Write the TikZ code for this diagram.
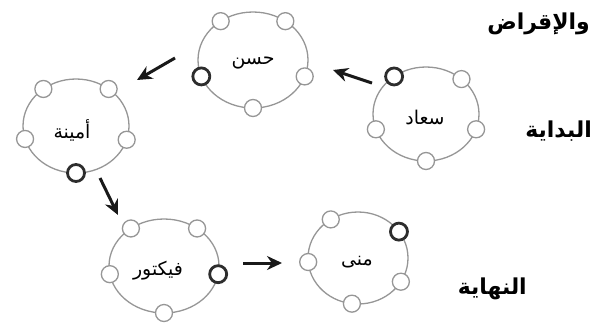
\documentclass[tikz,border=0pt]{standalone}
\usepackage{fontspec}
\usetikzlibrary{arrows.meta, calc}
\TeXXeTstate=1
\newfontfamily\arabicfont[Script=Arabic]{DejaVu Sans}
\newcommand{\artext}[1]{\arabicfont\beginR #1\endR}
\definecolor{ringgray}{RGB}{150,150,150}
\definecolor{seatdark}{RGB}{45,45,45}
\definecolor{arrowdark}{RGB}{25,25,25}
\tikzset{
  ring/.style={draw=ringgray, line width=1.3bp},
  seat/.style={circle, draw=ringgray, line width=1.3bp, fill=white,
               minimum size=17bp, inner sep=0pt},
  chosen/.style={seat, draw=seatdark, line width=2.8bp},
  who/.style={font=\arabicfont\fontsize{19}{22}\selectfont, inner sep=0pt},
  stage/.style={font=\arabicfont\bfseries\fontsize{22}{26}\selectfont, inner sep=0pt},
  pass/.style={-{Stealth[length=15bp, width=14bp]}, line width=3bp, arrowdark},
}

\begin{document}
\begin{tikzpicture}[x=1bp, y=-1bp]
  \useasboundingbox (0,0) rectangle (597,325);

  % ring centres
  \coordinate (saad)   at (426,114);
  \coordinate (hasan)  at (253,60);
  \coordinate (amina)  at (76,126);
  \coordinate (victor) at (164,266);
  \coordinate (mona)   at (358,258);

  % Saad
  \draw[ring] (saad) ellipse [x radius=53bp, y radius=47bp];
  \foreach \a in {48,199,270,341}
    \node[seat] (saad-\a) at ($(saad)+(\a:53bp and 47bp)$) {};
  \node[chosen] (saad-out) at ($(saad)+(127:53bp and 47bp)$) {};
  \node[who] (saad-name) at (425,117) {\artext{سعاد}};

  % Hasan
  \draw[ring] (hasan) ellipse [x radius=55bp, y radius=48bp];
  \foreach \a in {54,126,270,340}
    \node[seat] (hasan-\a) at ($(hasan)+(\a:55bp and 48bp)$) {};
  \node[chosen] (hasan-out) at ($(hasan)+(200:55bp and 48bp)$) {};
  \node[who] (hasan-name) at (253,63) {\artext{حسن}};

  % Amina
  \draw[ring] (amina) ellipse [x radius=53bp, y radius=47bp];
  \foreach \a in {52,128,196,343}
    \node[seat] (amina-\a) at ($(amina)+(\a:53bp and 47bp)$) {};
  \node[chosen] (amina-out) at ($(amina)+(270:53bp and 47bp)$) {};
  \node[who] (amina-name) at (72,130) {\artext{أمينة}};

  % Victor
  \draw[ring] (victor) ellipse [x radius=55bp, y radius=47bp];
  \foreach \a in {53,127,190,270}
    \node[seat] (victor-\a) at ($(victor)+(\a:55bp and 47bp)$) {};
  \node[chosen] (victor-out) at ($(victor)+(350:55bp and 47bp)$) {};
  \node[who] (victor-name) at (158,271) {\artext{فيكتور}};

  % Mona
  \draw[ring] (mona) ellipse [x radius=50bp, y radius=46bp];
  \foreach \a in {123,185,263,329}
    \node[seat] (mona-\a) at ($(mona)+(\a:50bp and 46bp)$) {};
  \node[chosen] (mona-in) at ($(mona)+(35:50bp and 46bp)$) {};
  \node[who] (mona-name) at (357,262) {\artext{منى}};

  % hand-over arrows
  \coordinate (pass1-tail) at (372,83);  \coordinate (pass1-head) at (333,70);
  \coordinate (pass2-tail) at (175,58);  \coordinate (pass2-head) at (137,80);
  \coordinate (pass3-tail) at (100,178); \coordinate (pass3-head) at (118,215);
  \coordinate (pass4-tail) at (243,263); \coordinate (pass4-head) at (282,263);
  \draw[pass] (pass1-tail) -- (pass1-head);
  \draw[pass] (pass2-tail) -- (pass2-head);
  \draw[pass] (pass3-tail) -- (pass3-head);
  \draw[pass] (pass4-tail) -- (pass4-head);

  % side labels
  \node[stage, anchor=east] (lending) at (590,24) {\artext{والإقراض}};
  \node[stage, anchor=east] (start) at (592,131) {\artext{البداية}};
  \node[stage, anchor=east] (finish) at (527,289) {\artext{النهاية}};
\end{tikzpicture}
\end{document}
